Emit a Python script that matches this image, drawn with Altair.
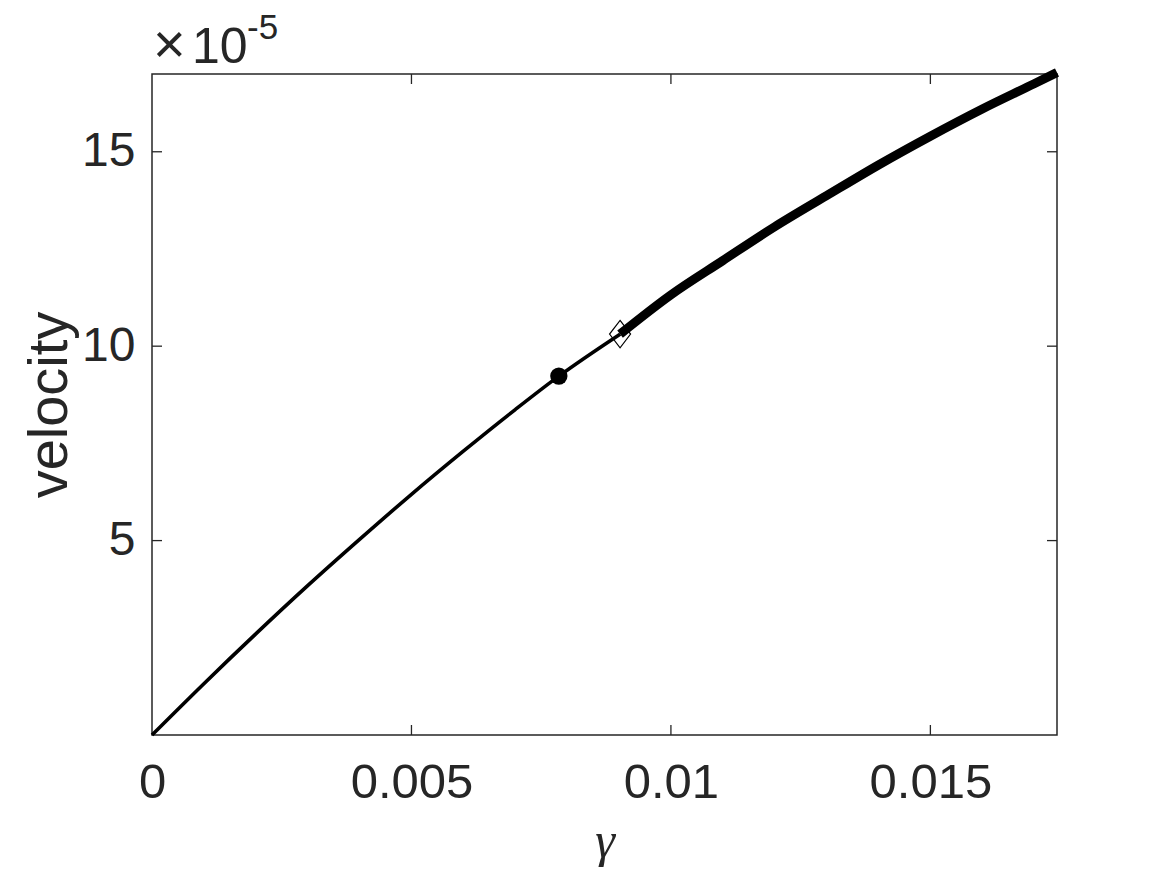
import altair as alt
import pandas as pd

# curve (gamma, velocity in units of 1e-5)
gamma = [0.0, 0.001, 0.002, 0.003, 0.004, 0.005, 0.006, 0.007, 0.00784, 0.00902,
         0.010, 0.011, 0.012, 0.013, 0.014, 0.015, 0.016, 0.017, 0.01744]
velocity = [0.0, 1.32, 2.60, 3.84, 5.03, 6.19, 7.30, 8.37, 9.23, 10.31,
            11.32, 12.20, 13.07, 13.87, 14.66, 15.40, 16.10, 16.75, 17.04]
split_gamma = 0.00902  # thin branch up to the diamond, thick branch after

dot_gamma = [0.00784]
dot_velocity = [9.23]
diamond_gamma = [0.00902]
diamond_velocity = [10.31]

x_ticks = [0, 0.005, 0.01, 0.015]
y_ticks = [5, 10, 15]

W, H = 905, 661
AX = "#262626"
FONT = "Liberation Sans"

df = pd.DataFrame({"g": gamma, "v": velocity})
thin = df[df["g"] <= split_gamma]
thick = df[df["g"] >= split_gamma]

xs = alt.Scale(domain=[0, 0.01744], nice=False, zero=False)
ys = alt.Scale(domain=[0, 17], nice=False, zero=False)

x_axis = alt.Axis(values=x_ticks, format="~g", ticks=False, domain=False, grid=False,
                  labelFont=FONT, labelFontSize=49, labelColor=AX, labelPadding=23,
                  labelFlush=False,
                  title="γ", titleFont="Liberation Serif", titleFontSize=50,
                  titleFontStyle="italic", titleFontWeight="normal", titleColor=AX,
                  titleBaseline="alphabetic", titlePadding=49)
y_axis = alt.Axis(values=y_ticks, ticks=False, domain=False, grid=False,
                  labelFont=FONT, labelFontSize=48, labelColor=AX, labelPadding=17,
                  labelFlush=False,
                  title="velocity", titleFont=FONT, titleFontSize=56,
                  titleFontWeight="normal", titleColor=AX, titlePadding=3)

def X(field="g"):
    return alt.X(f"{field}:Q", scale=xs, axis=x_axis)

def Y(field="v"):
    return alt.Y(f"{field}:Q", scale=ys, axis=y_axis)

thin_line = alt.Chart(thin).mark_line(color="black", strokeWidth=3.6, interpolate="monotone").encode(x=X(), y=Y())
thick_line = alt.Chart(thick).mark_line(color="black", strokeWidth=9, interpolate="monotone").encode(x=X(), y=Y())

dot = alt.Chart(pd.DataFrame({"g": dot_gamma, "v": dot_velocity})).mark_point(
    shape="circle", filled=True, color="black", size=300, opacity=1).encode(x=X(), y=Y())

diamond = alt.Chart(pd.DataFrame({"g": diamond_gamma, "v": diamond_velocity})).mark_point(
    shape="M0,-1.3L1,0L0,1.3L-1,0Z", filled=False, stroke="black", strokeWidth=1.2,
    size=441, opacity=1).encode(x=X(), y=Y())

xt = pd.DataFrame({"g": x_ticks[1:]})
yt = pd.DataFrame({"v": y_ticks})
tick_bottom = alt.Chart(xt).mark_rule(color=AX, strokeWidth=1.3).encode(
    x=X(), y=alt.value(H), y2=alt.value(H - 10))
tick_top = alt.Chart(xt).mark_rule(color=AX, strokeWidth=1.3).encode(
    x=X(), y=alt.value(0), y2=alt.value(10))
tick_left = alt.Chart(yt).mark_rule(color=AX, strokeWidth=1.3).encode(
    y=Y(), x=alt.value(0), x2=alt.value(10))
tick_right = alt.Chart(yt).mark_rule(color=AX, strokeWidth=1.3).encode(
    y=Y(), x=alt.value(W - 10), x2=alt.value(W))

exp_times = alt.Chart(pd.DataFrame({"t": ["×"]})).mark_text(
    font=FONT, fontSize=56, color=AX, align="left", baseline="alphabetic").encode(
    text="t:N", x=alt.value(1), y=alt.value(-11))
exp_base = alt.Chart(pd.DataFrame({"t": ["10"]})).mark_text(
    font=FONT, fontSize=50, color=AX, align="left", baseline="alphabetic").encode(
    text="t:N", x=alt.value(40), y=alt.value(-11))
exp_sup = alt.Chart(pd.DataFrame({"t": ["-5"]})).mark_text(
    font=FONT, fontSize=35, color=AX, align="left", baseline="alphabetic").encode(
    text="t:N", x=alt.value(95), y=alt.value(-35))

chart = alt.layer(
    tick_bottom, tick_top, tick_left, tick_right,
    thin_line, thick_line, dot, diamond, exp_times, exp_base, exp_sup
).properties(
    width=W, height=H,
    autosize=alt.AutoSizeParams(type="none"),
    padding={"left": 144, "top": 66, "right": 100, "bottom": 132},
    background="white",
).configure_view(
    stroke=AX, strokeWidth=1.5
)

chart.save("out.html", embed_options={"renderer": "svg", "actions": False})
